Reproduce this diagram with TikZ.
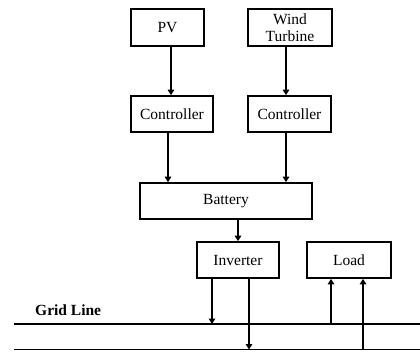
\documentclass[tikz,border=0pt]{standalone}
\usepackage{fontspec}
\setmainfont{Liberation Serif}
\usetikzlibrary{arrows.meta}
\begin{document}
\begin{tikzpicture}[x=1pt,y=-1pt,
  blk/.style={draw,line width=1.7pt,inner sep=0pt,font=\fontsize{15.5}{16.5}\selectfont,align=center},
  arr/.style={line width=2.2pt,-{Triangle[length=5.5pt,width=6.5pt]}},
  grid/.style={line width=1.4pt}]
\useasboundingbox (0,0) rectangle (420,351);
\node[blk,minimum width=73pt,minimum height=37pt] (PV) at (167.5,27.5) {PV};
\node[blk,minimum width=84pt,minimum height=37pt] (WT) at (290,27.5) {Wind\\Turbine};
\node[blk,minimum width=82pt,minimum height=36pt] (C1) at (172,114) {Controller};
\node[blk,minimum width=83pt,minimum height=36pt] (C2) at (289.5,114) {Controller};
\node[blk,minimum width=172pt,minimum height=36pt] (BAT) at (226,201) {Battery};
\node[blk,minimum width=82pt,minimum height=36pt] (INV) at (238,260) {Inverter};
\node[blk,minimum width=84pt,minimum height=36pt] (LOAD) at (349,260) {Load};
\node[anchor=base west,font=\fontsize{15.5}{16.5}\selectfont\bfseries,inner sep=0pt] (GL) at (35,315) {Grid Line};
\coordinate (g1l) at (14,324);
\coordinate (g1r) at (420,324);
\coordinate (g2l) at (14,349.5);
\coordinate (g2r) at (420,349.5);
\draw[grid] (g1l) -- (g1r);
\draw[grid] (g2l) -- (g2r);
% sources to controllers
\coordinate (a1) at ([xshift=3.5pt]PV.south);
\draw[arr] (a1) -- (a1 |- C1.north);
\coordinate (a2) at ([xshift=-4pt]WT.south);
\draw[arr] (a2) -- (a2 |- C2.north);
% controllers to battery
\coordinate (b1) at ([xshift=-4pt]C1.south);
\draw[arr] (b1) -- (b1 |- BAT.north);
\coordinate (b2) at ([xshift=-3.5pt]C2.south);
\draw[arr] (b2) -- (b2 |- BAT.north);
% battery to inverter
\coordinate (c1) at (BAT.south -| INV.north);
\draw[arr] (c1) -- (INV.north);
% inverter to grid
\coordinate (d1) at ([xshift=-26pt]INV.south);
\draw[arr] (d1) -- (d1 |- g1l);
\coordinate (d2) at ([xshift=11pt]INV.south);
\draw[arr] (d2) -- (d2 |- g2l);
% grid to load
\coordinate (e1) at ([xshift=-18pt]LOAD.south);
\draw[arr] (e1 |- g1l) -- (e1);
\coordinate (e2) at ([xshift=14pt]LOAD.south);
\draw[arr] (e2 |- g2l) -- (e2);
\end{tikzpicture}
\end{document}
